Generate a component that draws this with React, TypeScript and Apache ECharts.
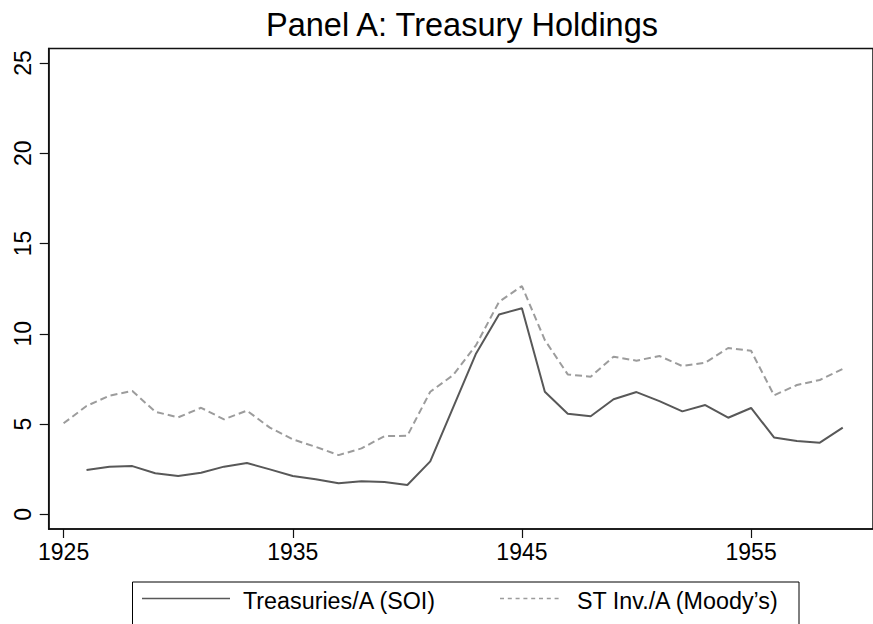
import React, { useEffect, useRef } from "react";
import * as echarts from "echarts";

const titleText = "Panel A: Treasury Holdings";
const seriesNames = ["Treasuries/A (SOI)", "ST Inv./A (Moody\u2019s)"];

const years = [
  1925, 1926, 1927, 1928, 1929, 1930, 1931, 1932, 1933, 1934,
  1935, 1936, 1937, 1938, 1939, 1940, 1941, 1942, 1943, 1944,
  1945, 1946, 1947, 1948, 1949, 1950, 1951, 1952, 1953, 1954,
  1955, 1956, 1957, 1958, 1959,
];

const treasuries: (number | null)[] = [
  null, 2.45, 2.64, 2.67, 2.27, 2.12, 2.3, 2.64, 2.84, 2.49,
  2.12, 1.94, 1.72, 1.83, 1.79, 1.62, 2.93, 5.92, 8.91, 11.07,
  11.41, 6.79, 5.57, 5.43, 6.37, 6.77, 6.27, 5.7, 6.05, 5.35,
  5.89, 4.26, 4.06, 3.97, 4.8,
];

const stInv: (number | null)[] = [
  5.04, 6.0, 6.57, 6.83, 5.68, 5.37, 5.9, 5.26, 5.74, 4.8,
  4.15, 3.74, 3.28, 3.65, 4.33, 4.35, 6.79, 7.71, 9.37, 11.77,
  12.64, 9.65, 7.75, 7.62, 8.73, 8.51, 8.77, 8.21, 8.4, 9.21,
  9.06, 6.59, 7.16, 7.44, 8.05,
];

const xTicks = [1925, 1935, 1945, 1955];
const yTicks = [0, 5, 10, 15, 20, 25];

const FONT = "'Liberation Sans', Arial, Helvetica, sans-serif";
const SOLID = "#585858";
const DASH = "#9c9c9c";
const AXIS = "#111";

function pairs(vals: (number | null)[]) {
  const out: [number, number][] = [];
  years.forEach((y, i) => {
    const v = vals[i];
    if (v !== null && v !== undefined) out.push([y, v]);
  });
  return out;
}

export default function App() {
  const ref = useRef<HTMLDivElement>(null);

  useEffect(() => {
    if (!ref.current) return;
    const chart = echarts.init(ref.current, undefined, { renderer: "svg" });
    const option: any = {
      animation: false,
      backgroundColor: "#ffffff",
      title: {
        text: titleText,
        left: 462,
        top: 8,
        padding: 0,
        textAlign: "center",
        textStyle: {
          fontFamily: FONT,
          fontSize: 32.5,
          fontWeight: "normal",
          color: "#000",
        },
      },
      grid: {
        left: 48.7,
        right: -2,
        top: 48.5,
        bottom: 95,
        show: true,
        borderColor: AXIS,
        borderWidth: 1.5,
        backgroundColor: "transparent",
      },
      xAxis: {
        type: "value",
        min: 1924.35,
        max: 1960.32,
        splitLine: { show: false },
        axisLine: { show: true, onZero: false, lineStyle: { color: AXIS, width: 1.5 } },
        axisTick: {
          show: true,
          length: 9,
          customValues: xTicks,
          lineStyle: { color: AXIS, width: 1.2 },
        },
        axisLabel: {
          customValues: xTicks,
          margin: 11,
          fontSize: 23,
          fontFamily: FONT,
          color: "#000",
          formatter: (v: number) => String(v),
        },
      },
      yAxis: {
        type: "value",
        min: -0.814,
        max: 25.8,
        splitLine: { show: false },
        axisLine: { show: true, onZero: false, lineStyle: { color: AXIS, width: 1.5 } },
        axisTick: {
          show: true,
          length: 9,
          customValues: yTicks,
          lineStyle: { color: AXIS, width: 1.2 },
        },
        axisLabel: {
          customValues: yTicks,
          rotate: 90,
          margin: 14,
          fontSize: 23,
          fontFamily: FONT,
          color: "#000",
          formatter: (v: number) => String(v),
        },
      },
      series: [
        {
          name: seriesNames[0],
          type: "line",
          data: pairs(treasuries),
          symbol: "none",
          lineStyle: { color: SOLID, width: 2 },
          z: 3,
        },
        {
          name: seriesNames[1],
          type: "line",
          data: pairs(stInv),
          symbol: "none",
          lineStyle: { color: DASH, width: 2, type: [7, 4] },
          z: 2,
        },
      ],
      graphic: [
        {
          type: "rect",
          shape: { x: 132.5, y: 582, width: 666.5, height: 60 },
          style: { fill: "#fff", stroke: "#000", lineWidth: 1 },
          z: 10,
        },
        {
          type: "line",
          shape: { x1: 142, y1: 598.5, x2: 230, y2: 598.5 },
          style: { stroke: SOLID, lineWidth: 1.6 },
          z: 11,
        },
        {
          type: "text",
          x: 243,
          y: 601,
          style: {
            text: seriesNames[0],
            fontFamily: FONT,
            fontSize: 23.3,
            fill: "#000",
            verticalAlign: "middle",
            align: "left",
          },
          z: 11,
        },
        {
          type: "line",
          shape: { x1: 500, y1: 598.5, x2: 562, y2: 598.5 },
          style: { stroke: DASH, lineWidth: 1.3, lineDash: [4, 3.8] },
          z: 11,
        },
        {
          type: "text",
          x: 577,
          y: 601,
          style: {
            text: seriesNames[1],
            fontFamily: FONT,
            fontSize: 23.3,
            fill: "#000",
            verticalAlign: "middle",
            align: "left",
          },
          z: 11,
        },
      ],
    };
    chart.setOption(option);
    return () => chart.dispose();
  }, []);

  return (
    <div
      ref={ref}
      style={{ position: "absolute", left: 0, top: 0, width: 873, height: 624, background: "#fff" }}
    />
  );
}
